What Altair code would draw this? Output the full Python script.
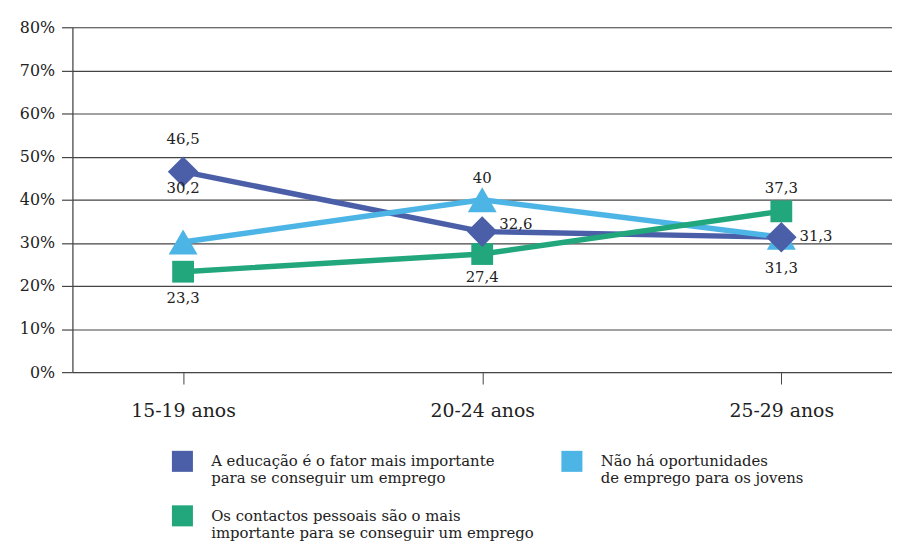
import altair as alt
import pandas as pd

ages = ["15-19 anos", "20-24 anos", "25-29 anos"]
series = [
    "A educação é o fator mais importante|para se conseguir um emprego",
    "Não há oportunidades|de emprego para os jovens",
    "Os contactos pessoais são o mais|importante para se conseguir um emprego",
]
edu = [46.5, 32.6, 31.3]
nao = [30.2, 40.0, 31.3]
cont = [23.3, 27.4, 37.3]
y_ticks = [0, 10, 20, 30, 40, 50, 60, 70, 80]

colors = ["#4a5fa8", "#4cb5e6", "#22a67c"]
shapes = ["diamond", "triangle-up", "square"]
sizes = [950, 850, 484]
# legend order (column-major fill): edu, contactos | não há
legend_order = [0, 2, 1]
# label offsets (dx, dy) per series / age group
offsets = {
    (0, 0): (0, -33), (0, 1): (34, -8), (0, 2): (35, -1),
    (1, 0): (0, -54), (1, 1): (0, -22), (1, 2): (0, 31),
    (2, 0): (0, 27), (2, 1): (0, 23), (2, 2): (0, -24),
}

rows = []
for si, vals in enumerate([edu, nao, cont]):
    for ai, v in enumerate(vals):
        rows.append({
            "serie": series[si], "sid": si, "idade": ages[ai], "aid": ai,
            "valor": v, "rotulo": f"{v:g}".replace(".", ","),
        })
df = pd.DataFrame(rows)

FONT = "DejaVu Serif"
GRID = "#444444"

x_enc = alt.X("idade:N", sort=ages, scale=alt.Scale(type="point", padding=0.37),
              axis=alt.Axis(title=None, grid=False, domain=False, ticks=True, tickSize=12,
                            tickColor=GRID, labelFont=FONT, labelFontSize=19,
                            labelColor="#222", labelPadding=18, labelAngle=0))
y_enc = alt.Y("valor:Q", scale=alt.Scale(domain=[0, 80], nice=False),
              axis=alt.Axis(title=None, values=y_ticks, grid=True, gridColor=GRID,
                            gridWidth=1.2, domain=True, domainColor=GRID, domainWidth=1.2,
                            ticks=True, tickSize=11, tickColor=GRID, tickWidth=1.2,
                            labelExpr="datum.value + '%'", labelFont=FONT,
                            labelFontSize=16, labelColor="#222", labelPadding=7))

base = alt.Chart(df)
layers = []
# lines
for si in [0, 1, 2]:
    layers.append(base.transform_filter(alt.datum.sid == si).mark_line(
        color=colors[si], strokeWidth=5.5).encode(x=x_enc, y=y_enc))

color_enc = alt.Color("serie:N",
                      scale=alt.Scale(domain=[series[i] for i in legend_order],
                                      range=[colors[i] for i in legend_order]),
                      legend=alt.Legend(title=None, orient="none", legendX=100, legendY=427,
                                        columns=2, symbolType="square", symbolSize=450,
                                        symbolStrokeWidth=0, labelFont=FONT, labelFontSize=15,
                                        labelColor="#222", labelLimit=500, labelOffset=18,
                                        labelExpr="split(datum.label, '|')",
                                        columnPadding=27, rowPadding=19))
# markers
for si in [2, 1, 0]:
    layers.append(base.transform_filter(alt.datum.sid == si).mark_point(
        shape=shapes[si], size=sizes[si], filled=True, opacity=1).encode(
        x=x_enc, y=y_enc, color=color_enc))

# value labels
for (si, ai), (dx, dy) in offsets.items():
    layers.append(base.transform_filter((alt.datum.sid == si) & (alt.datum.aid == ai)).mark_text(
        font=FONT, fontSize=15, color="#222", dx=dx, dy=dy, baseline="middle").encode(
        x=x_enc, y=y_enc, text="rotulo:N"))

chart = alt.layer(*layers).properties(
    width=827, height=348,
    autosize=alt.AutoSizeParams(type="none"),
    padding={"left": 65, "top": 17, "right": 0, "bottom": 175},
).configure_view(stroke=None).configure(background="white")

chart.save("out.html", embed_options={"renderer": "svg", "actions": False})
